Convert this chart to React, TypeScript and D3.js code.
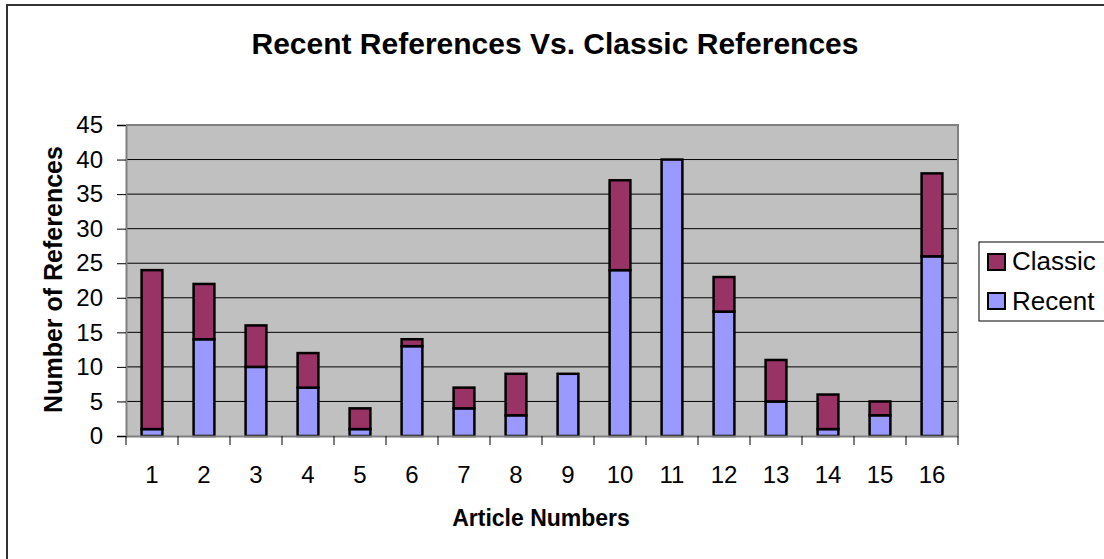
import React, { useRef, useEffect } from 'react';
import * as d3 from 'd3';

const articles = ['1', '2', '3', '4', '5', '6', '7', '8', '9', '10', '11', '12', '13', '14', '15', '16'];
const recent = [1, 14, 10, 7, 1, 13, 4, 3, 9, 24, 40, 18, 5, 1, 3, 26];
const classic = [23, 8, 6, 5, 3, 1, 3, 6, 0, 13, 0, 5, 6, 5, 2, 12];
const yTicks = [0, 5, 10, 15, 20, 25, 30, 35, 40, 45];
const seriesNames = ['Classic', 'Recent'];
const seriesColors = ['#993366', '#9999FF'];

const FONT = 'Arial, "Liberation Sans", sans-serif';

const App = () => {
  const svgRef = useRef<SVGSVGElement>(null);

  useEffect(() => {
    d3.select(svgRef.current).selectAll('*').remove();
    const svg = d3.select(svgRef.current);
    const plot = { left: 126, right: 958, top: 125, bottom: 436 };

    // outer chart frame (cut off at right/bottom like the original)
    svg
      .append('rect')
      .attr('x', 7)
      .attr('y', 5)
      .attr('width', 1200)
      .attr('height', 700)
      .attr('fill', 'white')
      .attr('stroke', '#333')
      .attr('stroke-width', 2);

    const x = d3
      .scaleBand()
      .domain(articles)
      .range([plot.left, plot.right])
      .paddingInner(0.6)
      .paddingOuter(0.3);

    const y = d3.scaleLinear().domain([0, 45]).range([plot.bottom, plot.top]);

    // plot background
    svg
      .append('rect')
      .attr('x', plot.left)
      .attr('y', plot.top)
      .attr('width', plot.right - plot.left)
      .attr('height', plot.bottom - plot.top)
      .attr('fill', '#C0C0C0');

    // gridlines
    svg
      .append('g')
      .selectAll('line')
      .data(yTicks.filter((d) => d > 0 && d < 45))
      .join('line')
      .attr('x1', plot.left)
      .attr('x2', plot.right)
      .attr('y1', (d) => y(d))
      .attr('y2', (d) => y(d))
      .attr('stroke', '#000')
      .attr('stroke-width', 1);

    // plot border (top/right grey)
    svg
      .append('path')
      .attr('d', `M${plot.left},${plot.top}H${plot.right}V${plot.bottom}`)
      .attr('fill', 'none')
      .attr('stroke', '#808080')
      .attr('stroke-width', 2);

    // stacked bars
    const stacked = articles.map((a, i) => ({ a, recent: recent[i], classic: classic[i] }));
    const stack = d3.stack<any>().keys(['recent', 'classic'])(stacked);
    const colorFor: Record<string, string> = { recent: seriesColors[1], classic: seriesColors[0] };

    stack.forEach((layer) => {
      svg
        .append('g')
        .selectAll('rect')
        .data(layer.filter((d) => d[1] - d[0] > 0))
        .join('rect')
        .attr('x', (d) => x(d.data.a)!)
        .attr('width', x.bandwidth())
        .attr('y', (d) => y(d[1]))
        .attr('height', (d) => y(d[0]) - y(d[1]))
        .attr('fill', colorFor[layer.key])
        .attr('stroke', '#000')
        .attr('stroke-width', 2.5);
    });

    // y axis
    const yAxis = d3
      .axisLeft(y)
      .tickValues(yTicks)
      .tickSize(9)
      .tickPadding(14)
      .tickFormat((d) => String(d));

    const yg = svg.append('g').attr('transform', `translate(${plot.left},0)`).call(yAxis);
    yg.select('.domain').attr('stroke', '#808080').attr('stroke-width', 2);
    yg.selectAll('.tick line').attr('stroke', '#000');
    yg.selectAll('.tick text')
      .style('font-size', '24px')
      .style('font-family', FONT)
      .attr('fill', '#000');

    // x axis
    const xAxis = d3.axisBottom(x).tickSize(0).tickPadding(0);
    const xg = svg.append('g').attr('transform', `translate(0,${plot.bottom})`).call(xAxis);
    xg.select('.domain').attr('stroke', '#808080').attr('stroke-width', 2);
    xg.selectAll('.tick text')
      .style('font-size', '24px')
      .style('font-family', FONT)
      .attr('fill', '#000')
      .attr('dy', null)
      .attr('y', 47);

    // category boundary ticks
    const step = x.step();
    svg
      .append('g')
      .selectAll('line')
      .data(d3.range(articles.length + 1))
      .join('line')
      .attr('x1', (i) => plot.left + i * step)
      .attr('x2', (i) => plot.left + i * step)
      .attr('y1', plot.bottom)
      .attr('y2', plot.bottom + 9)
      .attr('stroke', '#000')
      .attr('stroke-width', 1);

    // titles
    svg
      .append('text')
      .attr('x', 555)
      .attr('y', 54)
      .attr('text-anchor', 'middle')
      .style('font-family', FONT)
      .style('font-size', '30px')
      .style('font-weight', 'bold')
      .text('Recent References Vs. Classic References');

    svg
      .append('text')
      .attr('x', 541)
      .attr('y', 526)
      .attr('text-anchor', 'middle')
      .style('font-family', FONT)
      .style('font-size', '23px')
      .style('font-weight', 'bold')
      .text('Article Numbers');

    svg
      .append('text')
      .attr('transform', `translate(62,${(plot.top + plot.bottom) / 2 - 1}) rotate(-90)`)
      .attr('text-anchor', 'middle')
      .style('font-family', FONT)
      .style('font-size', '25px')
      .style('font-weight', 'bold')
      .text('Number of References');

    // legend
    const lg = svg.append('g');
    lg.append('rect')
      .attr('x', 979)
      .attr('y', 242)
      .attr('width', 200)
      .attr('height', 79)
      .attr('fill', 'white')
      .attr('stroke', '#000')
      .attr('stroke-width', 1);

    seriesNames.forEach((name, i) => {
      lg.append('rect')
        .attr('x', 988)
        .attr('y', 254 + i * 39)
        .attr('width', 17)
        .attr('height', 16)
        .attr('fill', seriesColors[i])
        .attr('stroke', '#000')
        .attr('stroke-width', 2);
      lg.append('text')
        .attr('x', 1012)
        .attr('y', 270 + i * 40)
        .style('font-family', FONT)
        .style('font-size', '26px')
        .text(name);
    });
  }, []);

  return (
    <svg
      ref={svgRef}
      width={1104}
      height={559}
      style={{ position: 'absolute', left: 0, top: 0, background: 'white' }}
    ></svg>
  );
};

export default App;
